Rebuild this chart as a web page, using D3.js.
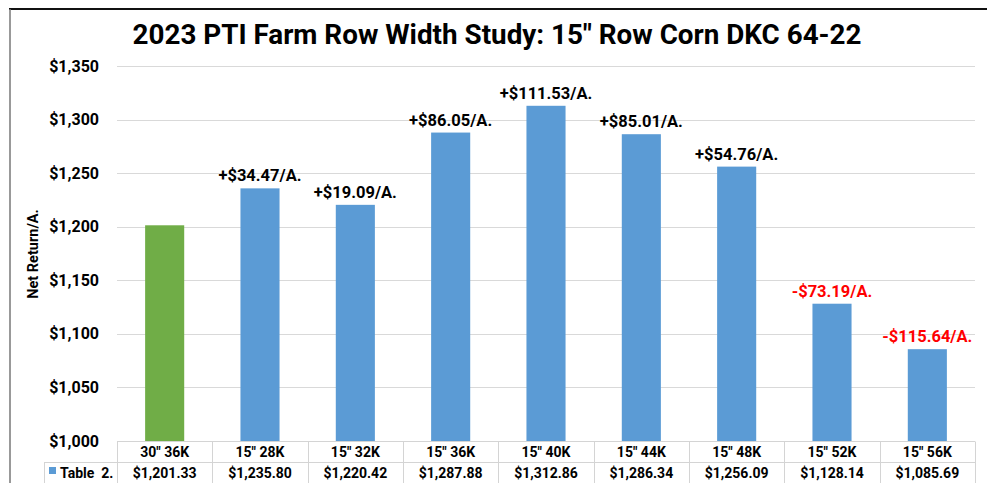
<!DOCTYPE html>
<html><head><meta charset="utf-8">
<script src="https://cdn.jsdelivr.net/npm/d3@7"></script>
<style>body{margin:0;background:#fff;}svg{display:block;font-family:Roboto,"Liberation Sans",sans-serif;}</style>
</head><body>
<svg id="c" width="987" height="483"></svg>
<script>
const categories = ['30" 36K','15" 28K','15" 32K','15" 36K','15" 40K','15" 44K','15" 48K','15" 52K','15" 56K'];
const values = [1201.33,1235.80,1220.42,1287.88,1312.86,1286.34,1256.09,1128.14,1085.69];
const valueLabels = ['$1,201.33','$1,235.80','$1,220.42','$1,287.88','$1,312.86','$1,286.34','$1,256.09','$1,128.14','$1,085.69'];
const diffLabels = ['', '+$34.47/A.','+$19.09/A.','+$86.05/A.','+$111.53/A.','+$85.01/A.','+$54.76/A.','-$73.19/A.','-$115.64/A.'];
const yTicks = [1000,1050,1100,1150,1200,1250,1300,1350];
const title = '2023 PTI Farm Row Width Study: 15" Row Corn DKC 64-22';
const seriesName = 'Table  2.';

(function(){
const svg = d3.select('#c');
const pL = 117, pR = 975, pT = 66, pB = 441;
const x = d3.scaleBand().domain(categories).range([pL, pR]).paddingInner(0.59).paddingOuter(0.295);
const xb = d3.scaleBand().domain(categories).range([pL, pR]);
const y = d3.scaleLinear().domain([1000,1350]).range([pB, pT]);

// border
svg.append('line').attr('x1',9).attr('x2',987).attr('y1',9).attr('y2',9).attr('stroke','#111').attr('stroke-width',2);
svg.append('line').attr('x1',10).attr('x2',10).attr('y1',9).attr('y2',483).attr('stroke','#777').attr('stroke-width',1.5);

// title
svg.append('text').attr('x',497).attr('y',44).attr('text-anchor','middle')
  .attr('font-size',28).attr('font-weight','bold').attr('fill','#000')
  .attr('textLength',729).attr('lengthAdjust','spacingAndGlyphs').text(title);

// grid
svg.append('g').selectAll('line').data(yTicks.filter(d=>d>1000)).join('line')
  .attr('x1',pL).attr('x2',pR).attr('y1',d=>Math.round(y(d))+0.5).attr('y2',d=>Math.round(y(d))+0.5)
  .attr('stroke','#d9d9d9').attr('stroke-width',1);

// y axis labels
const yAxis = d3.axisLeft(y).tickValues(yTicks).tickSize(0).tickPadding(0)
  .tickFormat(d=>'$'+d3.format(',')(d));
const ga = svg.append('g').attr('transform','translate(99,0)').call(yAxis);
ga.select('.domain').remove();
ga.selectAll('text').attr('font-size',16).attr('font-weight','bold').attr('fill','#000').attr('font-family','Roboto, sans-serif');

// axis title
svg.append('text').attr('transform','translate(38,254) rotate(-90)').attr('text-anchor','middle')
  .attr('font-size',14.5).attr('font-weight','bold').attr('fill','#000').text('Net Return/A.');

// bars
svg.append('g').selectAll('rect').data(values).join('rect')
  .attr('x',(d,i)=>x(categories[i])).attr('width',x.bandwidth())
  .attr('y',d=>y(d)).attr('height',d=>y(1000)-y(d))
  .attr('fill',(d,i)=>i===0?'#70AD47':'#5B9BD5');

// labels
svg.append('g').selectAll('text').data(values).join('text')
  .attr('x',(d,i)=>x(categories[i])+x.bandwidth()/2).attr('y',d=>y(d)-7)
  .attr('text-anchor','middle').attr('font-size',16.5).attr('font-weight','bold')
  .attr('fill',(d,i)=>diffLabels[i].startsWith('-')?'#FF0000':'#000')
  .text((d,i)=>diffLabels[i]);

// table
const t = svg.append('g');
const r0 = 441.5, r1 = 462.5, r2 = 490;
const gray = '#d4d4d4';
t.append('line').attr('x1',pL).attr('x2',pR).attr('y1',r0).attr('y2',r0).attr('stroke',gray);
t.append('line').attr('x1',44).attr('x2',pR).attr('y1',r1).attr('y2',r1).attr('stroke',gray);
const vx = categories.map(c=>xb(c)).concat([pR]);
t.selectAll('line.v').data(vx).join('line').attr('class','v')
  .attr('x1',d=>Math.round(d)+0.5).attr('x2',d=>Math.round(d)+0.5).attr('y1',r0).attr('y2',r2).attr('stroke',gray);
t.append('line').attr('x1',44.5).attr('x2',44.5).attr('y1',r1).attr('y2',r2).attr('stroke',gray);
t.selectAll('text.c').data(categories).join('text').attr('class','c')
  .attr('x',d=>xb(d)+xb.bandwidth()/2).attr('y',457).attr('text-anchor','middle')
  .attr('font-size',14).attr('font-weight','bold').attr('fill','#000').text(d=>d);
t.selectAll('text.v').data(valueLabels).join('text').attr('class','v')
  .attr('x',(d,i)=>xb(categories[i])+xb.bandwidth()/2).attr('y',478).attr('text-anchor','middle')
  .attr('font-size',14).attr('font-weight','bold').attr('fill','#000').text(d=>d);
t.append('rect').attr('x',49).attr('y',467).attr('width',7).attr('height',7).attr('fill','#5B9BD5');
t.append('text').attr('x',60).attr('y',478).attr('font-size',14).attr('font-weight','bold').attr('fill','#000')
  .attr('xml:space','preserve').text(seriesName);
})();
</script>
</body></html>
